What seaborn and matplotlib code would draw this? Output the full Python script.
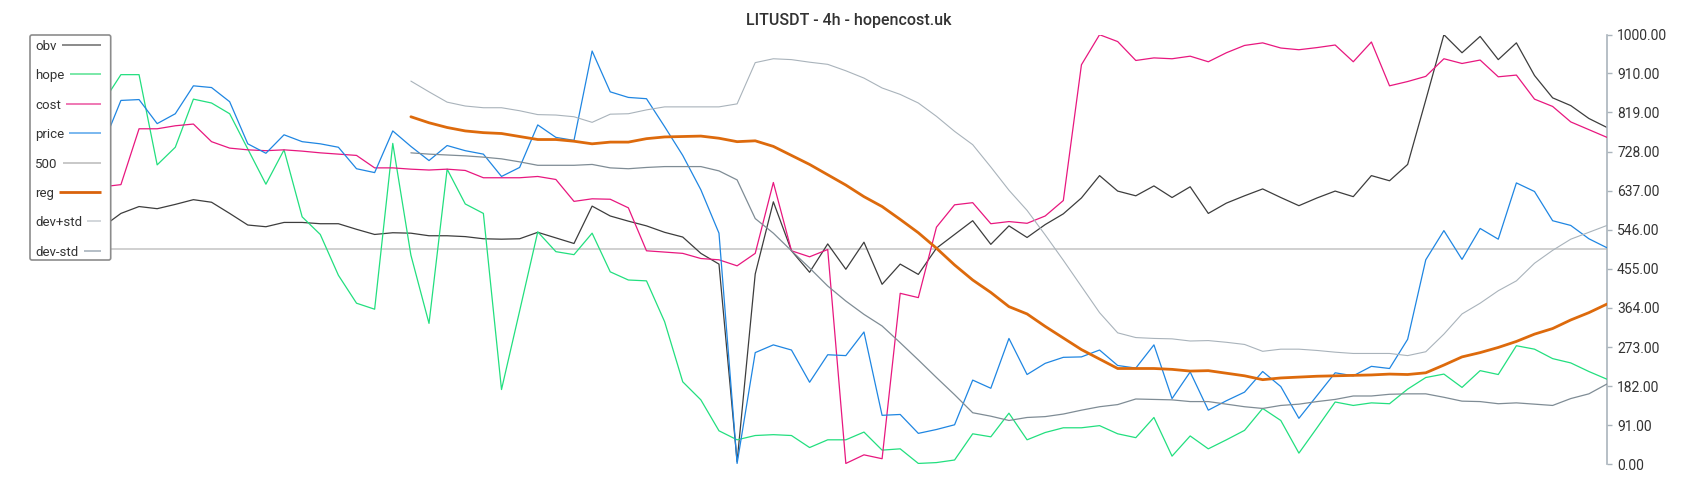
import numpy as np
import pandas as pd
import matplotlib
matplotlib.use("Agg")
import matplotlib.pyplot as plt
import seaborn as sns
from matplotlib.lines import Line2D
from matplotlib.patches import FancyBboxPatch
from matplotlib.transforms import IdentityTransform

# ---------------- data ----------------
title = "LITUSDT - 4h - hopencost.uk"
legend_labels = ["obv", "hope", "cost", "price", "500", "reg", "dev+std", "dev-std"]
y_ticks = [0, 91, 182, 273, 364, 455, 546, 637, 728, 819, 910, 1000]

obv = [553, 584, 600, 595, 605, 616, 610, 584, 557, 553, 563, 563, 560, 560, 547, 535,
       539, 538, 532, 532, 530, 525, 524, 525, 540, 527, 514, 601, 578, 566, 555, 540,
       529, 491, 466, 6, 443, 611, 497, 447, 513, 454, 517, 419, 466, 442, 503, 535,
       567, 512, 555, 528, 558, 583, 620, 672, 636, 625, 648, 621, 646, 584, 608, 625,
       641, 621, 602, 620, 636, 623, 672, 660, 698, 848, 1000, 958, 996, 942, 981, 905,
       853, 835, 805, 784]

hope = [842, 907, 907, 697, 738, 850, 841, 816, 734, 652, 732, 576, 535, 440, 375, 361,
        747, 487, 328, 687, 606, 584, 174, 357, 541, 495, 488, 538, 448, 429, 427, 332,
        192, 150, 78, 57, 67, 69, 67, 39, 57, 57, 75, 33, 36, 2, 4, 10,
        71, 64, 119, 57, 74, 85, 85, 90, 71, 62, 109, 19, 66, 36, 57, 79,
        130, 102, 26, 85, 145, 137, 143, 141, 175, 202, 210, 179, 218, 209, 276, 268,
        246, 236, 216, 198]

cost = [646, 651, 781, 781, 788, 792, 751, 736, 732, 730, 732, 729, 725, 722, 719, 690,
        690, 687, 685, 687, 684, 667, 667, 667, 670, 663, 612, 618, 617, 597, 497, 494,
        491, 479, 476, 462, 491, 656, 497, 483, 500, 2, 22, 13, 398, 388, 552, 604,
        609, 560, 565, 561, 578, 614, 930, 1000, 984, 940, 946, 944, 950, 937, 958, 975,
        981, 969, 965, 970, 976, 937, 983, 881, 891, 903, 944, 933, 941, 902, 906, 850,
        833, 797, 779, 761]

price = [743, 847, 849, 793, 816, 881, 877, 844, 746, 724, 767, 751, 746, 738, 688, 679,
         776, 740, 707, 742, 730, 722, 670, 691, 790, 761, 754, 962, 867, 854, 851, 786,
         719, 639, 538, 2, 260, 278, 266, 191, 255, 253, 308, 114, 116, 72, 81, 92,
         196, 177, 293, 209, 235, 249, 250, 266, 230, 224, 278, 153, 215, 126, 148, 168,
         216, 181, 107, 160, 213, 206, 228, 223, 291, 476, 544, 477, 549, 524, 655, 635,
         567, 556, 525, 504]

level_500 = 500

# regression band series begin at this bar index
band_start = 17

reg = [809, 795, 784, 776, 772, 770, 763, 756, 756, 752, 746, 750, 750, 758, 762, 763,
       764, 759, 751, 753, 740, 719, 698, 674, 650, 623, 600, 570, 539, 503, 464, 429,
       400, 367, 350, 321, 294, 267, 245, 223, 223, 223, 221, 217, 218, 212, 206, 197,
       201, 203, 205, 206, 207, 208, 210, 209, 213, 231, 250, 260, 272, 286, 303, 316,
       336, 353, 373]

dev_plus_std = [892, 867, 843, 834, 830, 830, 823, 814, 813, 809, 796, 815, 816, 825, 832, 832,
                832, 832, 839, 935, 944, 942, 936, 931, 916, 899, 876, 861, 841, 810, 775, 744,
                692, 638, 591, 534, 475, 414, 353, 306, 295, 293, 292, 287, 288, 284, 279, 263,
                268, 268, 265, 261, 258, 258, 258, 253, 262, 303, 350, 375, 404, 427, 468, 498,
                524, 540, 556]

dev_minus_std = [725, 722, 720, 718, 715, 711, 704, 696, 696, 696, 698, 690, 688, 691, 693, 693,
                 693, 683, 662, 572, 538, 497, 457, 415, 380, 349, 322, 283, 243, 202, 162, 120,
                 112, 102, 109, 111, 117, 126, 134, 139, 152, 151, 150, 146, 146, 140, 134, 130,
                 137, 140, 146, 151, 159, 159, 163, 164, 164, 156, 147, 146, 141, 143, 140, 137,
                 153, 164, 187]

# ---------------- style ----------------
W, H, DPI = 1700, 500, 100
sns.set_theme(style="white")
plt.rcParams["font.family"] = ["Roboto", "DejaVu Sans"]

colors = {
    "obv": "#3d3d3d",
    "hope": "#22df7f",
    "cost": "#e8177f",
    "price": "#1f86e2",
    "500": "#c4c4c4",
    "reg": "#dd6a0c",
    "dev+std": "#a9b3bb",
    "dev-std": "#7f8c95",
}
legend_colors = {
    "obv": "#8a8a8a",
    "hope": "#7ae8a8",
    "cost": "#ef78b3",
    "price": "#7ab8ef",
    "500": "#c8c8c8",
    "reg": "#d9620b",
    "dev+std": "#d2d6da",
    "dev-std": "#b4bec6",
}

n = len(obv)
x_all = np.arange(n)
x_band = np.arange(band_start, band_start + len(reg))

fig = plt.figure(figsize=(W / DPI, H / DPI), dpi=DPI)
left_px, right_px, top_px, bottom_px = 102.8, 1607.0, 34.7, 464.3
ax = fig.add_axes([left_px / W, 1 - bottom_px / H,
                   (right_px - left_px) / W, (bottom_px - top_px) / H])

lw = 0.9
ax.axhline(level_500, color=colors["500"], lw=1.1, zorder=1)
series = [
    ("obv", x_all, obv, lw),
    ("hope", x_all, hope, lw),
    ("cost", x_all, cost, lw),
    ("price", x_all, price, lw),
    ("reg", x_band, reg, 2.0),
    ("dev+std", x_band, dev_plus_std, 0.8),
    ("dev-std", x_band, dev_minus_std, 0.9),
]
for i, (name, xs, ys, w) in enumerate(series):
    sns.lineplot(x=xs, y=ys, ax=ax, color=colors[name], linewidth=w,
                 legend=False, sort=False, zorder=2 + i)

ax.set_xlim(0, n - 1)
ax.set_ylim(0, 1000)
ax.set_xticks([])
ax.set_xlabel("")
ax.set_ylabel("")
ax.yaxis.tick_right()
ax.set_yticks(y_ticks)
ax.set_yticklabels([f"{v:.2f}" for v in y_ticks])
ax.tick_params(axis="y", direction="out", length=3.6, width=1.0, color="#aab4bc",
               pad=3.6, labelsize=10, labelcolor="#333333", left=False, right=True)
for s in ["left", "top", "bottom"]:
    ax.spines[s].set_visible(False)
ax.spines["right"].set_visible(True)
ax.spines["right"].set_color("#aab4bc")
ax.spines["right"].set_linewidth(1.2)
ax.grid(False)
ax.set_facecolor("white")

# title
fig.text(849 / W, 1 - 20.7 / H, title, ha="center", va="center",
         fontsize=11.5, color="#333333", fontweight="medium")

# legend (manual, text first then variable-length line)
box = FancyBboxPatch((30, H - 260), 80.7, 225,
                     boxstyle="round,pad=0,rounding_size=2",
                     transform=IdentityTransform(), facecolor="white",
                     edgecolor="#8c8c8c", lw=1.2, zorder=10)
fig.add_artist(box)
row_y = [45 + 29.4 * i for i in range(len(legend_labels))]
texts = []
for lab, yc in zip(legend_labels, row_y):
    t = fig.text(35.3 / W, 1 - yc / H, lab, ha="left", va="center_baseline",
                 fontsize=9.5, color="#333333", zorder=11)
    texts.append(t)
fig.canvas.draw()
renderer = fig.canvas.get_renderer()
for lab, yc, t in zip(legend_labels, row_y, texts):
    bb = t.get_window_extent(renderer)
    x0 = bb.x1 + 5
    x1 = 100.7
    fig.add_artist(Line2D([x0, x1], [H - yc, H - yc], transform=IdentityTransform(),
                          color=legend_colors[lab], lw=2.0 if lab == "reg" else 1.4,
                          solid_capstyle="butt", zorder=11))

fig.savefig("out.png", dpi=DPI, facecolor="white")
